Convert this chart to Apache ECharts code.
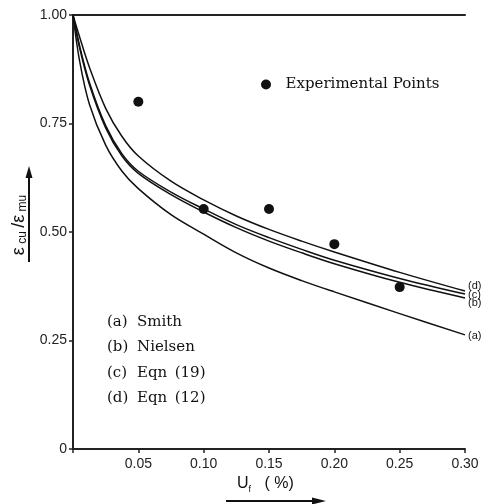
<!DOCTYPE html>
<html>
<head>
<meta charset="utf-8">
<script src="https://cdn.jsdelivr.net/npm/echarts@6/dist/echarts.min.js"></script>
<style>html,body{margin:0;padding:0;background:#fff;}#c{width:484px;height:504px;}</style>
</head>
<body>
<div id="c"></div>
<script>
// x values (Uf, %) for the model curves
const xs = [0, 0.005, 0.0125, 0.025, 0.0375, 0.05, 0.075, 0.10, 0.125, 0.15, 0.175, 0.20, 0.25, 0.30];
// (a) Smith
const curveA = [1, 0.895, 0.795, 0.700, 0.640, 0.600, 0.540, 0.495, 0.452, 0.417, 0.388, 0.362, 0.312, 0.263];
// (b) Nielsen
const curveB = [1, 0.925, 0.840, 0.740, 0.675, 0.635, 0.586, 0.546, 0.510, 0.479, 0.452, 0.427, 0.384, 0.348];
// (c) Eqn (19)
const curveC = [1, 0.930, 0.845, 0.745, 0.680, 0.640, 0.592, 0.553, 0.517, 0.487, 0.460, 0.435, 0.393, 0.357];
// (d) Eqn (12)
const curveD = [1, 0.950, 0.880, 0.785, 0.720, 0.675, 0.617, 0.574, 0.537, 0.506, 0.479, 0.454, 0.407, 0.364];
// Experimental points
const expX = [0.05, 0.10, 0.15, 0.20, 0.25];
const expY = [0.80, 0.553, 0.553, 0.472, 0.373];
// tick values
const xTicks = [0.05, 0.10, 0.15, 0.20, 0.25, 0.30];
const yTicks = [0, 0.25, 0.50, 0.75, 1.00];
const legendItems = [['(a)', 'Smith'], ['(b)', 'Nielsen'], ['(c)', 'Eqn\u2002(19)'], ['(d)', 'Eqn\u2002(12)']];

const pair = (x, y) => x.map((v, i) => [v, y[i]]);
const chart = echarts.init(document.getElementById('c'));
const ink = '#111';
const serif = 'DejaVu Serif';
function curve(name, data, tag, dy) {
  return {
    name, type: 'line', data: pair(xs, data), smooth: 0.35,
    showSymbol: false, symbol: 'none', lineStyle: { color: ink, width: 1.5 }, z: 3,
    endLabel: { show: true, formatter: tag, offset: [0, dy], distance: 3, color: ink, fontSize: 11, fontFamily: 'Liberation Sans' }
  };
}
const legendGraphics = [];
legendItems.forEach((it, i) => {
  const y = 322 + i * 25.5;
  legendGraphics.push({ type: 'text', x: 107, y, style: { text: it[0], fill: ink, font: '15px ' + serif, verticalAlign: 'middle' } });
  legendGraphics.push({ type: 'text', x: 137, y, style: { text: it[1], fill: ink, font: '15px ' + serif, verticalAlign: 'middle' } });
});
chart.setOption({
  animation: false,
  backgroundColor: '#fff',
  grid: { left: 73, top: 15, right: 19, bottom: 55 },
  legend: {
    data: ['Experimental Points'], left: 261, top: 77, padding: 0, itemWidth: 10, itemHeight: 10,
    icon: 'circle', formatter: '  {name}',
    textStyle: { color: ink, fontFamily: serif, fontSize: 15 }
  },
  xAxis: [{
    type: 'value', min: 0, max: 0.30, interval: 0.05,
    axisLine: { lineStyle: { color: '#222', width: 2 } },
    axisTick: { show: true, length: 4, lineStyle: { color: '#222', width: 1.5 } },
    splitLine: { show: false },
    axisLabel: { margin: 8, color: '#222', fontSize: 14, fontFamily: 'Liberation Sans',
      formatter: v => (xTicks.some(t => Math.abs(t - v) < 1e-9) ? v.toFixed(2) : '') }
  }, {
    type: 'value', position: 'top', min: 0, max: 0.30,
    axisLine: { show: true, onZero: false, lineStyle: { color: '#222', width: 2 } },
    axisTick: { show: false }, axisLabel: { show: false }, splitLine: { show: false }
  }],
  yAxis: {
    type: 'value', min: 0, max: 1, interval: 0.25,
    axisLine: { show: true, lineStyle: { color: '#222', width: 2 } },
    axisTick: { show: true, length: 4, lineStyle: { color: '#222', width: 1.5 } },
    splitLine: { show: false },
    axisLabel: { margin: 6, color: '#222', fontSize: 14, fontFamily: 'Liberation Sans',
      formatter: v => (yTicks.some(t => Math.abs(t - v) < 1e-9) ? (v === 0 ? '0' : v.toFixed(2)) : '') }
  },
  series: [
    curve('(a) Smith', curveA, '(a)', 1),
    curve('(b) Nielsen', curveB, '(b)', 5),
    curve('(c) Eqn (19)', curveC, '(c)', 1),
    curve('(d) Eqn (12)', curveD, '(d)', -5),
    { name: 'Experimental Points', type: 'scatter', data: pair(expX, expY), symbol: 'circle', symbolSize: 10,
      itemStyle: { color: ink, opacity: 1 }, z: 4 }
  ],
  graphic: [
    ...legendGraphics,
    { type: 'text', x: 19, y: 225, rotation: Math.PI / 2,
      style: { text: '{e|ε}{s| cu} {e|/ε}{s| mu}', align: 'center', verticalAlign: 'middle', fill: ink,
        rich: { e: { fontSize: 18, fontFamily: 'Liberation Sans', fill: ink, lineHeight: 20, verticalAlign: 'middle' },
                s: { fontSize: 12, fontFamily: 'Liberation Sans', fill: ink, lineHeight: 20, verticalAlign: 'bottom' } } } },
    { type: 'line', shape: { x1: 29, y1: 262, x2: 29, y2: 176 }, style: { stroke: ink, lineWidth: 2 } },
    { type: 'polygon', shape: { points: [[29, 166], [25.5, 178], [32.5, 178]] }, style: { fill: ink } },
    { type: 'text', x: 237, y: 484,
      style: { text: '{u|U}{s|f}{p|   ( %)}', verticalAlign: 'middle', fill: ink,
        rich: { u: { fontSize: 16, fontFamily: 'Liberation Sans', fill: ink, lineHeight: 20, verticalAlign: 'middle' },
                s: { fontSize: 9, fontFamily: 'Liberation Sans', fill: ink, lineHeight: 20, verticalAlign: 'bottom' },
                p: { fontSize: 16, fontFamily: 'Liberation Sans', fill: ink, lineHeight: 20, verticalAlign: 'middle' } } } },
    { type: 'line', shape: { x1: 226, y1: 501, x2: 314, y2: 501 }, style: { stroke: ink, lineWidth: 2 } },
    { type: 'polygon', shape: { points: [[326, 501], [312, 497.5], [312, 504.5]] }, style: { fill: ink } }
  ]
});
</script>
</body>
</html>
